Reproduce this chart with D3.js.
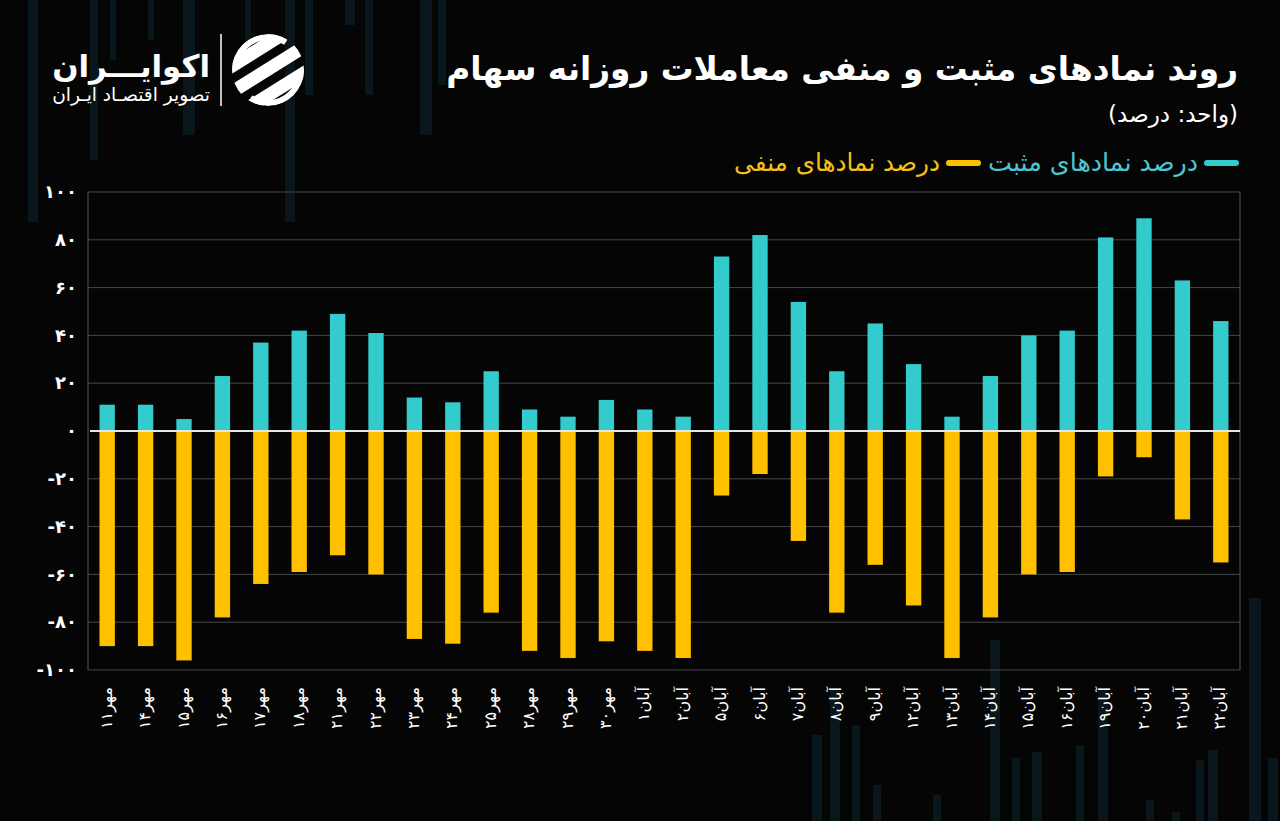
<!DOCTYPE html>
<html><head><meta charset="utf-8">
<script src="https://cdn.jsdelivr.net/npm/d3@7"></script>
<style>
html,body{margin:0;padding:0;background:#050505;}
svg{display:block;}
text{font-family:"DejaVu Sans",sans-serif;}
</style></head>
<body>
<svg id="chart" width="1280" height="821"></svg>
<script>
// ---------- data ----------
const categories = ["مهر۱۱","مهر۱۴","مهر۱۵","مهر۱۶","مهر۱۷","مهر۱۸","مهر۲۱","مهر۲۲","مهر۲۳","مهر۲۴","مهر۲۵","مهر۲۸","مهر۲۹","مهر۳۰","آبان۱","آبان۲","آبان۵","آبان۶","آبان۷","آبان۸","آبان۹","آبان۱۲","آبان۱۳","آبان۱۴","آبان۱۵","آبان۱۶","آبان۱۹","آبان۲۰","آبان۲۱","آبان۲۲"];
const positiveValues = [11,11,5,23,37,42,49,41,14,12,25,9,6,13,9,6,73,82,54,25,45,28,6,23,40,42,81,89,63,46];
const negativeValues = [-90,-90,-96,-78,-64,-59,-52,-60,-87,-89,-76,-92,-95,-88,-92,-95,-27,-18,-46,-76,-56,-73,-95,-78,-60,-59,-19,-11,-37,-55];
const yTickValues = [100,80,60,40,20,0,-20,-40,-60,-80,-100];
const yTickLabels = ["۱۰۰","۸۰","۶۰","۴۰","۲۰","۰","-۲۰","-۴۰","-۶۰","-۸۰","-۱۰۰"];
const seriesNames = ["درصد نمادهای مثبت","درصد نمادهای منفی"];
const titleText = "روند نمادهای مثبت و منفی معاملات روزانه سهام";
const unitText = "(واحد: درصد)";
const brandName = "اکوایـــران";
const brandSub = "تصویر اقتصـاد ایـران";
// decorative background stripes (not data)
const decor = [
  [28,0,10,222],[90,0,8,160],[110,0,6,60],[148,0,6,40],[183,0,12,135],[245,0,6,40],[285,0,10,222],[305,0,8,95],
  [345,0,10,25],[365,0,8,95],[420,0,12,135],[438,0,8,85],
  [812,735,10,90],[830,690,10,135],[852,725,8,100],[873,785,8,40],[933,795,8,30],[990,640,10,185],
  [1012,758,8,70],[1032,752,10,70],[1076,745,8,80],[1098,688,10,140],[1146,800,8,30],[1172,812,8,15],
  [1196,760,8,65],[1208,750,10,75],[1249,598,12,225],[1268,758,10,70]
];

const W = 1280, H = 821;
const margin = {left: 88, right: 40, top: 192, bottom: 151};
const svg = d3.select("#chart");
const colPos = "#33CBCB", colNeg = "#FFC000";

svg.append("rect").attr("width", W).attr("height", H).attr("fill", "#050505");
svg.append("g").selectAll("rect").data(decor).join("rect")
  .attr("x", d => d[0]).attr("y", d => d[1]).attr("width", d => d[2]).attr("height", d => d[3])
  .attr("fill", "#0a1a20").attr("opacity", 0.8);

const x = d3.scaleBand().domain(categories).range([margin.left, W - margin.right]).paddingInner(0.6).paddingOuter(0.3);
const y = d3.scaleLinear().domain([-100, 100]).range([H - margin.bottom, margin.top]);

// grid
svg.append("g").selectAll("line").data(yTickValues.filter(v => v !== 0)).join("line")
  .attr("x1", margin.left).attr("x2", W - margin.right)
  .attr("y1", d => y(d)).attr("y2", d => y(d))
  .attr("stroke", "#474747").attr("stroke-width", 1);
svg.append("line").attr("x1", margin.left).attr("x2", margin.left).attr("y1", y(100)).attr("y2", y(-100)).attr("stroke", "#555");
svg.append("line").attr("x1", W - margin.right).attr("x2", W - margin.right).attr("y1", y(100)).attr("y2", y(-100)).attr("stroke", "#555");

// y axis
const yAxis = d3.axisLeft(y).tickValues(yTickValues).tickSize(0).tickPadding(10)
  .tickFormat(d => yTickLabels[yTickValues.indexOf(d)]);
const ya = svg.append("g").attr("transform", `translate(${margin.left},0)`).call(yAxis);
ya.select(".domain").remove();
ya.selectAll("text").attr("fill", "#ffffff").attr("font-size", 18).attr("font-weight", "bold").attr("dx", -1);

// bars
svg.append("g").selectAll("rect").data(positiveValues).join("rect")
  .attr("x", (d, i) => x(categories[i])).attr("width", x.bandwidth())
  .attr("y", d => y(d)).attr("height", d => y(0) - y(d)).attr("fill", colPos);
svg.append("g").selectAll("rect").data(negativeValues).join("rect")
  .attr("x", (d, i) => x(categories[i])).attr("width", x.bandwidth())
  .attr("y", y(0)).attr("height", d => y(d) - y(0)).attr("fill", colNeg);

// zero line
svg.append("line").attr("x1", margin.left + 2).attr("x2", W - margin.right).attr("y1", y(0)).attr("y2", y(0))
  .attr("stroke", "#e6e6e6").attr("stroke-width", 2);

// x axis labels
const xAxis = d3.axisBottom(x).tickSize(0).tickPadding(0);
const xa = svg.append("g").attr("transform", `translate(0,${y(-100)})`).call(xAxis);
xa.select(".domain").remove();
xa.selectAll("text")
  .attr("fill", "#ffffff").attr("font-size", 16)
  .attr("text-anchor", "end").attr("dy", null).attr("y", null)
  .attr("dominant-baseline", "middle")
  .attr("transform", "translate(0,17) rotate(-90)");

function fitText(sel, width) {
  const fs = parseFloat(sel.attr("font-size"));
  const len = sel.node().getComputedTextLength();
  sel.attr("font-size", fs * width / len);
}
// title
const t = svg.append("text").attr("x", 1238).attr("y", 80).attr("direction", "rtl").attr("text-anchor", "start")
  .attr("fill", "#fff").attr("font-weight", "bold").attr("font-size", 30).text(titleText);
fitText(t, 792);
const u = svg.append("text").attr("x", 1238).attr("y", 122).attr("direction", "rtl").attr("text-anchor", "start")
  .attr("fill", "#fff").attr("font-size", 19).text(unitText);
fitText(u, 130);

// legend
let lx = 1238;
const legendY = 163;
[[seriesNames[0], "#4FC5D2", colPos, 210], [seriesNames[1], "#F6C116", colNeg, 206]].forEach(([name, tc, mc, w]) => {
  svg.append("line").attr("x1", lx - 31).attr("x2", lx - 2).attr("y1", legendY).attr("y2", legendY)
    .attr("stroke", mc).attr("stroke-width", 6).attr("stroke-linecap", "round");
  const tt = svg.append("text").attr("x", lx - 40).attr("y", legendY + 8).attr("direction", "rtl").attr("text-anchor", "start")
    .attr("fill", tc).attr("font-size", 20).text(name);
  fitText(tt, w);
  lx = lx - 40 - w - 8;
});

// brand
const bn = svg.append("text").attr("x", 210).attr("y", 77).attr("direction", "rtl").attr("text-anchor", "start")
  .attr("fill", "#fff").attr("font-weight", "bold").attr("font-size", 34).text(brandName);
fitText(bn, 158);
const bs = svg.append("text").attr("x", 210).attr("y", 101).attr("direction", "rtl").attr("text-anchor", "start")
  .attr("fill", "#fff").attr("font-size", 14).text(brandSub);
fitText(bs, 158);
svg.append("line").attr("x1", 221).attr("x2", 221).attr("y1", 34).attr("y2", 106).attr("stroke", "#fff").attr("stroke-width", 1.5);

// logo icon
const defs = svg.append("defs");
defs.append("clipPath").attr("id", "logoClip").append("circle").attr("cx", 268).attr("cy", 70).attr("r", 36);
const logo = svg.append("g").attr("clip-path", "url(#logoClip)");
[-22, 0, 22].forEach(off => {
  logo.append("rect").attr("x", 220).attr("y", 70 + off - 7).attr("width", 100).attr("height", 13)
    .attr("fill", "#fff").attr("transform", `rotate(-32,268,70)`);
});
logo.append("circle").attr("cx", 268).attr("cy", 70).attr("r", 33).attr("fill", "none").attr("stroke", "#fff").attr("stroke-width", 6)
  .attr("stroke-dasharray", "70 34");
</script>
</body></html>
